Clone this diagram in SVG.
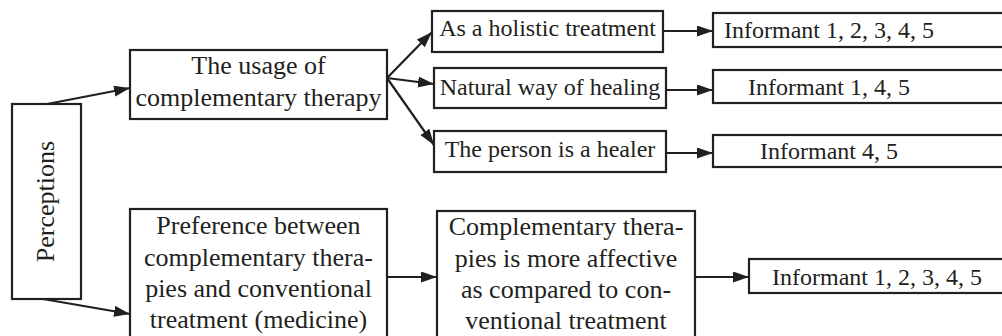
<svg xmlns="http://www.w3.org/2000/svg" width="1002" height="336" viewBox="0 0 1002 336">
<style>
rect{fill:#fff;stroke:#231f20;stroke-width:2.2}
text{font-family:"Liberation Serif","Times New Roman",serif;fill:#231f20;text-anchor:middle}
.b{font-size:26px}
.s{font-size:24px}
.c line{stroke:#231f20;stroke-width:2.2;marker-end:url(#ah)}
</style>
<defs>
<marker id="ah" markerUnits="userSpaceOnUse" markerWidth="17" markerHeight="12" refX="16" refY="5.5" orient="auto">
<path d="M0,0 L16,5.5 L0,11 z" fill="#231f20"/>
</marker>
</defs>
<rect width="1002" height="336" fill="#fff" style="stroke:none"/>
<g class="c" id="connectors">
<line x1="47" y1="104" x2="130" y2="88"/>
<line x1="43" y1="299" x2="130" y2="314"/>
<line x1="387" y1="78" x2="432" y2="32"/>
<line x1="387" y1="78" x2="434" y2="84"/>
<line x1="387" y1="78" x2="434" y2="145"/>
<line x1="663" y1="31" x2="713" y2="31"/>
<line x1="666" y1="90" x2="713" y2="90"/>
<line x1="666" y1="153" x2="713" y2="153"/>
<line x1="387" y1="277" x2="437" y2="277"/>
<line x1="695" y1="277" x2="749" y2="277"/>
</g>
<g id="perceptions">
<rect x="12" y="104" width="69" height="195"/>
<text class="b" transform="translate(54,201.5) rotate(-90)">Perceptions</text>
</g>
<g id="usage">
<rect x="130" y="50" width="257" height="69"/>
<text class="b" x="258.5" y="74">The usage of</text>
<text class="b" x="258.5" y="106">complementary therapy</text>
</g>
<g id="holistic">
<rect x="432" y="11" width="231" height="41"/>
<text class="s" x="547.5" y="36">As a holistic treatment</text>
</g>
<g id="natural">
<rect x="434" y="68" width="232" height="40"/>
<text class="s" x="550" y="95">Natural way of healing</text>
</g>
<g id="healer">
<rect x="434" y="131" width="232" height="41"/>
<text class="s" x="550" y="157">The person is a healer</text>
</g>
<g id="inf1">
<rect x="713" y="13" width="300" height="34"/>
<text class="s" x="829" y="38">Informant 1, 2, 3, 4, 5</text>
</g>
<g id="inf2">
<rect x="713" y="70" width="300" height="33"/>
<text class="s" x="829" y="95">Informant 1, 4, 5</text>
</g>
<g id="inf3">
<rect x="713" y="135" width="300" height="32"/>
<text class="s" x="829" y="159">Informant 4, 5</text>
</g>
<g id="preference">
<rect x="130" y="209" width="257" height="140"/>
<text class="b" x="258.5" y="234">Preference between</text>
<text class="b" x="258.5" y="265.5">complementary thera-</text>
<text class="b" x="258.5" y="297">pies and conventional</text>
<text class="b" x="258.5" y="328">treatment (medicine)</text>
</g>
<g id="complementary">
<rect x="437" y="211" width="258" height="140"/>
<text class="b" x="566" y="235">Complementary thera-</text>
<text class="b" x="566" y="266.5">pies is more affective</text>
<text class="b" x="566" y="297.5">as compared to con-</text>
<text class="b" x="566" y="328.5">ventional treatment</text>
</g>
<g id="inf4">
<rect x="749" y="259" width="300" height="34"/>
<text class="s" x="877" y="285">Informant 1, 2, 3, 4, 5</text>
</g>
</svg>
